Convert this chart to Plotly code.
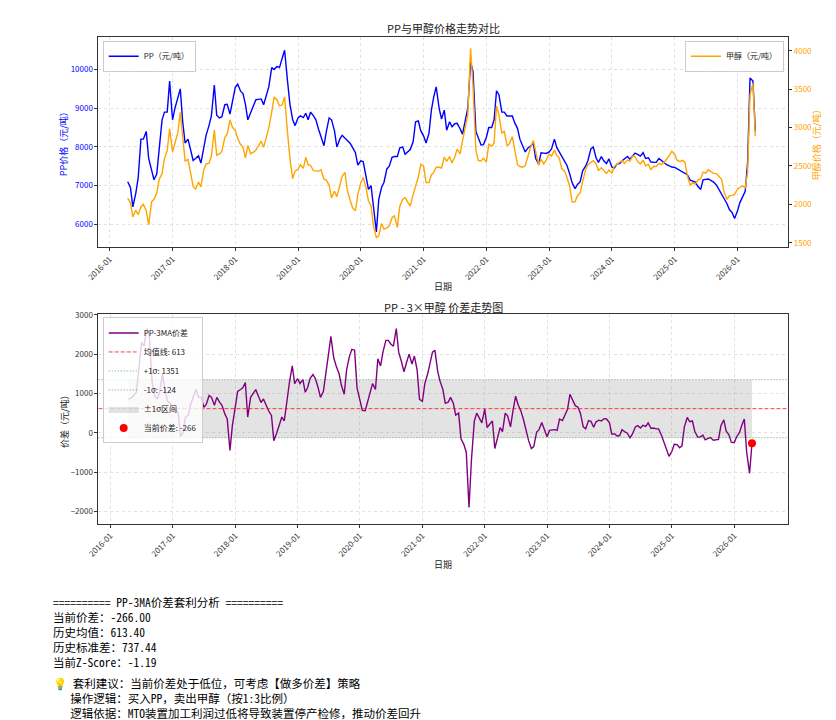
import pandas as pd
import plotly.graph_objects as go

# semi-monthly readings, starting 2016-04-15
pp_price = [
    7100, 6950, 6450, 6800, 7200, 8200, 8200, 8400, 7700, 7400,
    7150, 7300, 8000, 8700, 8900, 8900, 9700, 8700, 9000, 9300,
    9500, 8650, 8100, 8200, 7950, 7650, 7700, 7770, 7580, 7980,
    8300, 8550, 8800, 9600, 8820, 8750, 8780, 9090, 9100, 8850,
    9200, 9540, 9620, 9440, 9380, 9100, 8700, 8880, 9030, 9220,
    9230, 9240, 9090, 9350, 9550, 10050, 10000, 10080, 10050, 10290,
    10500, 9700, 9100, 8700, 8550, 8750, 8800, 8760, 8870, 8700,
    8900, 8800, 8700, 8450, 8250, 8030, 8400, 8750, 8700, 8420,
    8000, 8200, 8300, 8230, 8150, 8090, 7980, 7850, 7530, 7640,
    7620, 7200, 6900, 7000, 6400, 5800, 6650, 6950, 7080, 7430,
    7500, 7730, 7750, 7750, 7970, 8000, 7810, 7880, 7930, 8140,
    8650, 8670, 8420, 8280, 8100, 8350, 8950, 9300, 9550, 9000,
    8720, 8950, 8430, 8650, 8520, 8600, 8610, 8470, 8330, 8700,
    9000, 10200, 9950, 8400, 8220, 8050, 8060, 8250, 8500, 8500,
    8700, 9450, 9350, 8900, 8900, 8800, 8800, 8800, 8620, 8480,
    8200, 8000, 7870, 7980, 8020, 8100, 7700, 7550, 7850, 7840,
    7830, 7870, 7950, 8200, 7980, 7870, 7750, 7610, 7520, 7300,
    7070, 6920, 7030, 7100, 7380, 7500, 7650, 7950, 8000, 7720,
    7600, 7750, 7640, 7570, 7690, 7480, 7450, 7560, 7570, 7640,
    7680, 7750, 7680, 7760, 7840, 7800, 7760, 7850, 7700, 7720,
    7610, 7600, 7600, 7700, 7650, 7590, 7540, 7510, 7480, 7470,
    7430, 7380, 7340, 7320, 7280, 7140, 7120, 7090, 6980, 6900,
    7150, 7160, 7170, 7130, 7090, 7010, 6900, 6800, 6660, 6530,
    6380, 6300, 6150, 6340, 6560, 6730, 6850, 7600, 9780, 9700,
    8400,
]

# PP - 3 x methanol
spread = [
    860, 880, 940, 1030, 1600, 2300, 2200, 2650, 2500, 1300,
    950, 860, 1030, 1500, 1100, 800, 750, 650, 600, 500,
    -100, 0, 400, 450, 720, 950, 1100, 900, 900, 650,
    720, 950, 900, 700, 900, 780, 700, 480, 350, -450,
    180, 650, 1050, 1100, 1150, 1280, 400, 900, 1000, 1100,
    950, 770, 860, 690, 560, 440, -200, 0, 200, 400,
    300, 900, 1300, 1700, 1250, 1380, 1250, 1350, 1030, 1150,
    1380, 1480, 1380, 1150, 900, 1050, 1450, 2000, 2450, 1900,
    1700, 1500, 1200, 980, 1600, 1950, 2120, 2100, 1150, 800,
    570, 560, 770, 1050, 1250, 1100, 1880, 1700, 2050, 2350,
    2350, 2250, 2200, 2650, 2050, 1800, 1550, 1800, 2000, 1750,
    1950, 1600, 850, 800, 1250, 1500, 1800, 2050, 2100, 1550,
    1300, 1100, 750, 780, 900, 750, 450, 500, -150, -300,
    -500, -1900, -700, 300, 500, 350, 250, 600, 130, 230,
    300, -400, -150, 130, 30, 500, 430, 150, 550, 930,
    720, 550, 350, 40, -200, -400, -350, 20, 80, 260,
    100, -100, 60, 80, 80, 60, 350, 310, 470, 600,
    980, 820, 690, 650, 500, 150, 100, 310, 290, 140,
    280, 320, 300, 360, 350, 260, -30, -30, -80, -70,
    80, 20, -10, -130, -30, 150, 180, 120, 190, 160,
    250, 110, 120, 100, 100, -60, -220, -400, -600, -470,
    -290, -300, -380, -330, 150, 390, 280, 300, 40, -110,
    -110, -60, -180, -140, -120, -190, -180, -170, 180, 330,
    40, -50, -240, -250, -100, 10, 200, 350, -500, -1030,
    -266,
]

hist_mean = 613.40
hist_std = 737.44

dates = pd.date_range("2016-04-15", periods=len(pp_price), freq="SMS")
methanol = [(p - s) / 3 for p, s in zip(pp_price, spread)]

current = spread[-1]
z_score = (current - hist_mean) / hist_std
upper = hist_mean + hist_std
lower = hist_mean - hist_std

W, H = 836, 720
FONT = "Noto Sans CJK SC, Noto Sans, sans-serif"
MONO = "Noto Sans Mono CJK SC, Liberation Mono, Noto Sans CJK SC, monospace"


def px_x(x):
    return x / W


def px_y(y):
    return 1 - y / H


fig = go.Figure()

# top panel
fig.add_trace(go.Scatter(x=dates, y=pp_price, name="PP（元/吨）", mode="lines",
                         line=dict(color="blue", width=1.4),
                         xaxis="x", yaxis="y", legend="legend"))
fig.add_trace(go.Scatter(x=dates, y=methanol, name="甲醇（元/吨）", mode="lines",
                         line=dict(color="orange", width=1.4),
                         xaxis="x", yaxis="y2", legend="legend2"))

# bottom panel
fig.add_trace(go.Scatter(x=dates, y=[lower] * len(dates), mode="lines",
                         line=dict(width=0), showlegend=False, hoverinfo="skip",
                         xaxis="x2", yaxis="y3"))
fig.add_trace(go.Scatter(x=dates, y=[upper] * len(dates), mode="lines", fill="tonexty",
                         fillcolor="rgba(128,128,128,0.22)", line=dict(width=0),
                         name="±1σ区间", legend="legend3", legendrank=5,
                         xaxis="x2", yaxis="y3"))
fig.add_trace(go.Scatter(x=dates, y=spread, name="PP-3MA价差", mode="lines",
                         line=dict(color="purple", width=1.4),
                         legend="legend3", legendrank=1, xaxis="x2", yaxis="y3"))

hlines = [
    (hist_mean, "rgba(255,0,0,0.75)", "4px,2px", f"均值线: {hist_mean:.0f}", 2),
    (upper, "rgba(0,128,0,0.65)", "1px,2px", f"+1σ: {upper:.0f}", 3),
    (lower, "rgba(0,128,0,0.65)", "1px,2px", f"-1σ: {lower:.0f}", 4),
]
for val, color, dash, label, rank in hlines:
    fig.add_shape(type="line", xref="x2 domain", x0=0, x1=1, yref="y3", y0=val, y1=val,
                  line=dict(color=color, dash=dash, width=1))
    fig.add_trace(go.Scatter(x=[None], y=[None], mode="lines", name=label,
                             line=dict(color=color, dash=dash, width=1),
                             legend="legend3", legendrank=rank, xaxis="x2", yaxis="y3"))

fig.add_trace(go.Scatter(x=[dates[-1]], y=[current], mode="markers",
                         marker=dict(color="red", size=8),
                         name=f"当前价差: {current:.0f}", legend="legend3", legendrank=6,
                         xaxis="x2", yaxis="y3"))

axis_style = dict(showline=True, linecolor="#333333", linewidth=1, mirror=True,
                  ticks="outside", ticklen=3, tickcolor="#333333",
                  tickfont=dict(size=8, color="#333333", family=FONT),
                  showgrid=True, gridcolor="#e2e2e2", griddash="3px,3px", gridwidth=0.7,
                  zeroline=False)
x_dom = [px_x(78.7), px_x(779.3)]
date_ticks = dict(type="date", dtick="M12", tick0="2016-01-01", tickformat="%Y-%m",
                  tickangle=-45)
legend_box = dict(bgcolor="rgba(255,255,255,0.8)", bordercolor="#cccccc", borderwidth=1,
                  font=dict(size=8, color="#222222"), traceorder="normal")

fig.update_layout(
    width=W, height=H,
    margin=dict(l=0, r=0, t=0, b=0),
    paper_bgcolor="white", plot_bgcolor="white",
    font=dict(family=FONT, size=9, color="#222222"),
    xaxis=dict(**axis_style, **date_ticks, domain=x_dom, anchor="y",
               range=["2015-10-28", "2026-10-23"]),
    yaxis=dict(**axis_style, domain=[px_y(235.3), px_y(22.7)], anchor="x",
               range=[5403, 10854], dtick=1000, tick0=6000, tickformat="d"),
    yaxis2=dict(**{**axis_style, "showgrid": False, "mirror": False},
                overlaying="y", side="right", anchor="x",
                range=[1440, 4187], dtick=500, tick0=1500, tickformat="d"),
    xaxis2=dict(**axis_style, **date_ticks, domain=x_dom, anchor="y3",
                range=["2015-10-23", "2026-11-13"]),
    yaxis3=dict(**axis_style, domain=[px_y(514.3), px_y(302.7)], anchor="x2",
                range=[-2319, 3015], dtick=1000, tick0=0, tickformat="d"),
    legend=dict(x=px_x(83), y=px_y(27), xanchor="left", yanchor="top", **legend_box),
    legend2=dict(x=px_x(775), y=px_y(27), xanchor="right", yanchor="top", **legend_box),
    legend3=dict(x=px_x(83), y=px_y(306), xanchor="left", yanchor="top", **legend_box),
    showlegend=True,
)

fig.layout.yaxis.tickfont.color = "blue"
fig.layout.yaxis2.tickfont.color = "orange"

notes = [
    (px_x(429), px_y(14), "PP与甲醇价格走势对比", 11, "#222222", 0),
    (px_x(429), px_y(295), "PP - 3×甲醇 价差走势图", 11, "#222222", 0),
    (px_x(429), px_y(275), "日期", 9, "#222222", 0),
    (px_x(429), px_y(555), "日期", 9, "#222222", 0),
    (px_x(44), px_y(129), "PP价格（元/吨）", 9, "blue", -90),
    (px_x(809), px_y(129), "甲醇价格（元/吨）", 9, "orange", -90),
    (px_x(44), px_y(408), "价差（元/吨）", 9, "#222222", -90),
]
for x, y, text, size, color, angle in notes:
    fig.add_annotation(x=x, y=y, xref="paper", yref="paper", text=text, showarrow=False,
                       textangle=angle, xanchor="center", yanchor="middle",
                       font=dict(size=size, color=color, family=FONT))

nb = "\u00a0"
summary_lines = [
    "=" * 10 + nb + "PP-3MA价差套利分析" + nb + "=" * 10,
    f"当前价差：{current:.2f}",
    f"历史均值：{hist_mean:.2f}",
    f"历史标准差：{hist_std:.2f}",
    f"当前Z-Score：{z_score:.2f}",
]
advice_lines = [
    "💡" + nb + "套利建议：当前价差处于低位，可考虑【做多价差】策略",
    nb * 3 + "操作逻辑：买入PP，卖出甲醇（按1:3比例）",
    nb * 3 + "逻辑依据：MTO装置加工利润过低将导致装置停产检修，推动价差回升",
]
for y_mid, lines in [(623.5, summary_lines), (690, advice_lines)]:
    fig.add_annotation(x=px_x(30), y=px_y(y_mid), xref="paper", yref="paper",
                       text="<br>".join(lines), showarrow=False, align="left",
                       xanchor="left", yanchor="middle",
                       font=dict(size=11.5, color="black", family=MONO))

fig.write_html("out.html")
